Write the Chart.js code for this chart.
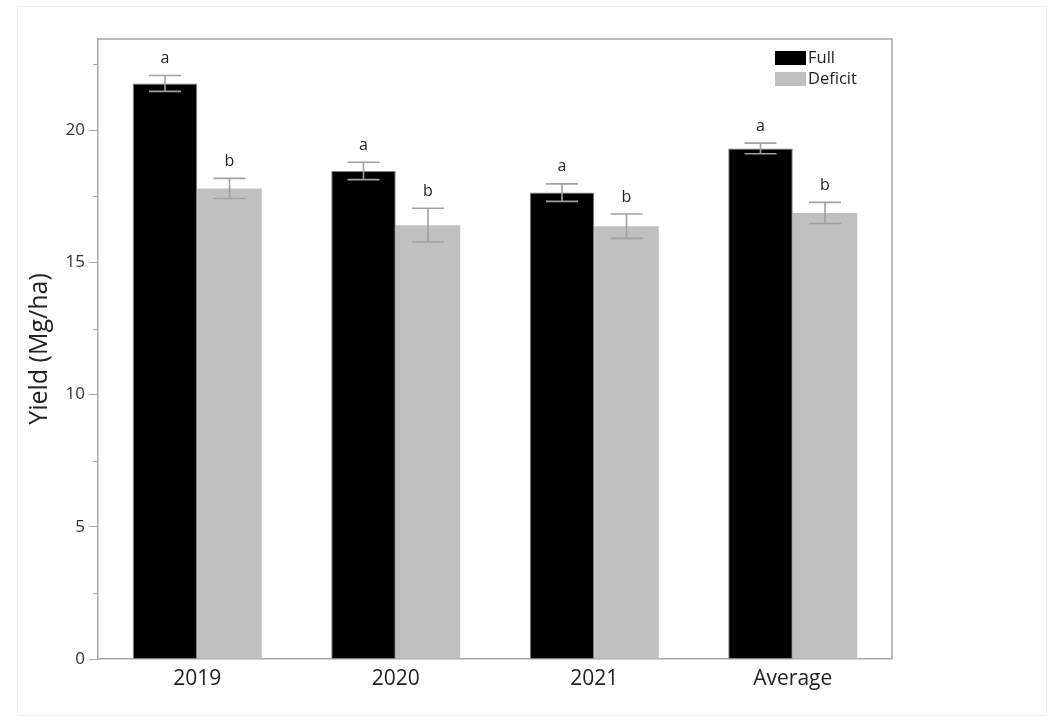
<!DOCTYPE html>
<html>
<head>
<meta charset="utf-8">
<script src="https://cdn.jsdelivr.net/npm/chart.js@4.4.1/dist/chart.umd.min.js"></script>
<style>
  html, body { margin: 0; padding: 0; background: #fff; }
  #wrap { position: relative; width: 1056px; height: 717px; }
  canvas { display: block; }
</style>
</head>
<body>
<div id="wrap"><canvas id="c" width="1056" height="717"></canvas></div>
<script>
// Yield by year and irrigation treatment
const categories = ['2019', '2020', '2021', 'Average'];
const fullYield = [21.77, 18.46, 17.64, 19.31];
const deficitYield = [17.80, 16.41, 16.37, 16.87];
const fullErr = [0.30, 0.33, 0.33, 0.20];
const deficitErr = [0.38, 0.64, 0.46, 0.40];
const fullLetters = ['a', 'a', 'a', 'a'];
const deficitLetters = ['b', 'b', 'b', 'b'];
const yTicks = [0, 5, 10, 15, 20];
const yMinorTicks = [2.5, 7.5, 12.5, 17.5, 22.5];

const FONT = '"Open Sans", "Noto Sans", sans-serif';
const AXIS_GRAY = '#a8a8a8';

// Error bars, significance letters, plot frame, minor ticks, legend
const extras = {
  id: 'extras',
  afterDatasetsDraw(chart) {
    const ctx = chart.ctx;
    const y = chart.scales.y;
    const area = chart.chartArea;
    ctx.save();

    chart.data.datasets.forEach((ds, di) => {
      const meta = chart.getDatasetMeta(di);
      meta.data.forEach((bar, i) => {
        const v = ds.data[i];
        const e = ds.errors[i];
        const yTop = y.getPixelForValue(v + e);
        const yBot = y.getPixelForValue(v - e);
        const x = bar.x;
        const cap = 16;
        ctx.strokeStyle = '#a0a0a0';
        ctx.lineWidth = 1.6;
        ctx.beginPath();
        ctx.moveTo(x, yTop); ctx.lineTo(x, yBot);
        ctx.moveTo(x - cap, yTop); ctx.lineTo(x + cap, yTop);
        ctx.moveTo(x - cap, yBot); ctx.lineTo(x + cap, yBot);
        ctx.stroke();

        ctx.fillStyle = '#222';
        ctx.font = '16px ' + FONT;
        ctx.textAlign = 'center';
        ctx.textBaseline = 'middle';
        ctx.fillText(ds.letters[i], x, yTop - 17);
      });
    });

    // frame top and right
    ctx.strokeStyle = AXIS_GRAY;
    ctx.lineWidth = 1.5;
    ctx.beginPath();
    ctx.moveTo(area.left, area.top);
    ctx.lineTo(area.right, area.top);
    ctx.lineTo(area.right, area.bottom);
    ctx.stroke();

    // minor ticks on the value axis
    ctx.lineWidth = 1;
    ctx.beginPath();
    yMinorTicks.forEach(t => {
      const py = Math.round(y.getPixelForValue(t)) + 0.5;
      ctx.moveTo(area.left - 5, py);
      ctx.lineTo(area.left, py);
    });
    ctx.stroke();

    // legend in the upper right of the plot
    const lx = 775, ly = 51;
    chart.data.datasets.forEach((ds, di) => {
      const by = ly + di * 21;
      ctx.fillStyle = ds.backgroundColor;
      ctx.fillRect(lx, by, 31, 14);
      ctx.fillStyle = '#222';
      ctx.font = '16.5px ' + FONT;
      ctx.textAlign = 'left';
      ctx.textBaseline = 'middle';
      ctx.fillText(ds.label, lx + 33, by + 7);
    });

    // faint outer border
    ctx.strokeStyle = '#f0f0f0';
    ctx.lineWidth = 1;
    ctx.strokeRect(17.5, 6.5, 1029, 709);

    ctx.restore();
  }
};

new Chart(document.getElementById('c'), {
  type: 'bar',
  data: {
    labels: categories,
    datasets: [
      {
        label: 'Full',
        data: fullYield,
        errors: fullErr,
        letters: fullLetters,
        backgroundColor: '#000000',
        borderColor: '#808080',
        borderWidth: 1,
        borderSkipped: 'bottom'
      },
      {
        label: 'Deficit',
        data: deficitYield,
        errors: deficitErr,
        letters: deficitLetters,
        backgroundColor: '#c0c0c0',
        borderWidth: 0
      }
    ]
  },
  options: {
    responsive: false,
    animation: false,
    devicePixelRatio: 1,
    layout: { padding: { left: 0, right: 164, top: 39, bottom: 0 } },
    datasets: { bar: { categoryPercentage: 0.65, barPercentage: 1.0 } },
    plugins: { legend: { display: false }, tooltip: { enabled: false } },
    scales: {
      x: {
        grid: { display: false, drawTicks: false },
        border: { color: AXIS_GRAY, width: 1.5 },
        ticks: { color: '#222', font: { family: FONT, size: 21 }, padding: 7 },
        afterFit(scale) { scale.height = 58; }
      },
      y: {
        min: 0,
        max: 23.45,
        afterBuildTicks(scale) { scale.ticks = yTicks.map(v => ({ value: v })); },
        ticks: { color: '#333', font: { family: FONT, size: 17 }, padding: 4 },
        grid: { drawOnChartArea: false, drawTicks: true, tickLength: 9, color: AXIS_GRAY },
        border: { color: AXIS_GRAY, width: 1.5 },
        title: {
          display: true,
          text: 'Yield (Mg/ha)',
          color: '#222',
          font: { family: FONT, size: 25 },
          padding: { top: 25, bottom: 10 }
        },
        afterFit(scale) { scale.width = 98; }
      }
    }
  },
  plugins: [extras]
});
</script>
</body>
</html>
